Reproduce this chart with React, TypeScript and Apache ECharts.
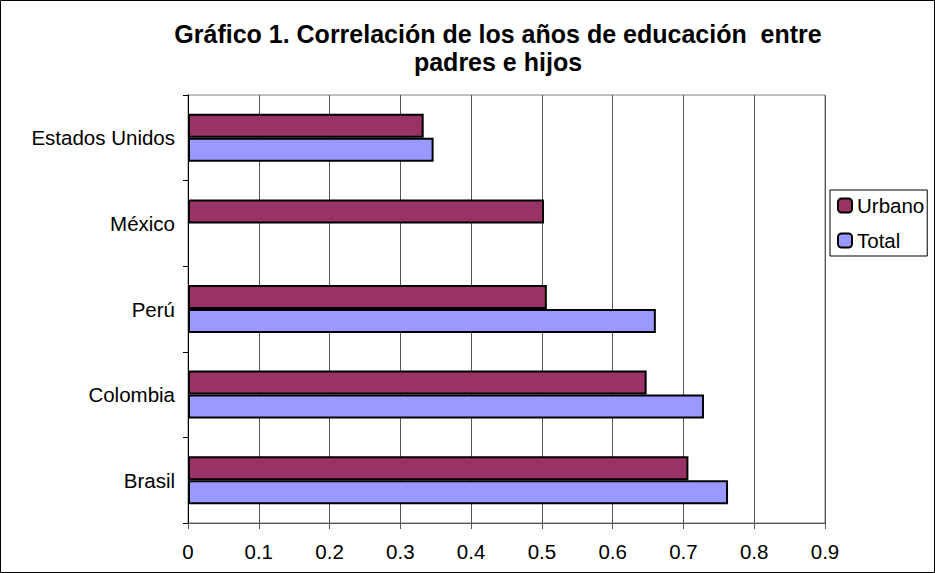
import React, { useEffect, useRef } from "react";
import * as echarts from "echarts";

const categories = ["Brasil", "Colombia", "Perú", "México", "Estados Unidos"];
const urbano = [0.707, 0.648, 0.507, 0.503, 0.333];
const total = [0.763, 0.729, 0.661, null, 0.347];
const seriesNames = ["Urbano", "Total"];
const titleText = "Gráfico 1. Correlación de los años de educación  entre\npadres e hijos";

export default function App() {
  const ref = useRef<HTMLDivElement>(null);
  useEffect(() => {
    const chart = echarts.init(ref.current!, null, { renderer: "svg" });
    const font = "'Liberation Sans', Arial, sans-serif";
    chart.setOption({
      animation: false,
      backgroundColor: "#fff",
      textStyle: { fontFamily: font },
      title: {
        text: titleText,
        left: 498,
        textAlign: "center",
        top: 20,
        padding: 0,
        textStyle: { fontSize: 25, fontWeight: "bold", color: "#000", lineHeight: 28, fontFamily: font },
      },
      graphic: [
        {
          type: "rect",
          shape: { x: 0.5, y: 0.5, width: 934, height: 572 },
          style: { fill: "none", stroke: "#000", lineWidth: 1 },
          silent: true,
        },
      ],
      legend: {
        data: seriesNames,
        orient: "vertical",
        left: 830,
        top: 190,
        padding: [5, 3, 5, 7],
        itemGap: 14,
        itemWidth: 14,
        itemHeight: 14,
        borderColor: "#000",
        borderWidth: 1,
        textStyle: { fontSize: 20.5, color: "#000", fontFamily: font },
      },
      grid: {
        left: 188,
        right: 110,
        top: 95,
        bottom: 50,
        show: true,
        borderColor: "#808080",
        borderWidth: 1,
        containLabel: false,
      },
      xAxis: {
        type: "value",
        min: 0,
        max: 0.9,
        interval: 0.1,
        axisLine: { show: true, lineStyle: { color: "#555", width: 1 } },
        axisTick: { show: true, length: 6, lineStyle: { color: "#555" } },
        axisLabel: { fontSize: 20.5, color: "#000", margin: 18, fontFamily: font, formatter: (v: number) => String(Math.round(v * 10) / 10) },
        splitLine: { show: true, lineStyle: { color: "#555", width: 1 } },
      },
      yAxis: {
        type: "category",
        data: categories,
        axisLine: { show: true, lineStyle: { color: "#000", width: 1 } },
        axisTick: { show: true, length: 5, lineStyle: { color: "#000" } },
        axisLabel: { fontSize: 20.5, color: "#000", margin: 13, fontFamily: font },
        splitLine: { show: false },
      },
      series: [
        {
          name: "Urbano",
          type: "bar",
          data: urbano,
          barWidth: 24,
          barGap: "0%",
          itemStyle: { color: "#993366", borderColor: "#000", borderWidth: 2 },
        },
        {
          name: "Total",
          type: "bar",
          data: total,
          barWidth: 24,
          barGap: "0%",
          itemStyle: { color: "#9999FF", borderColor: "#000", borderWidth: 2 },
        },
      ],
    });
    return () => chart.dispose();
  }, []);
  return <div ref={ref} style={{ position: "fixed", left: 0, top: 0, width: 935, height: 573 }} />;
}
